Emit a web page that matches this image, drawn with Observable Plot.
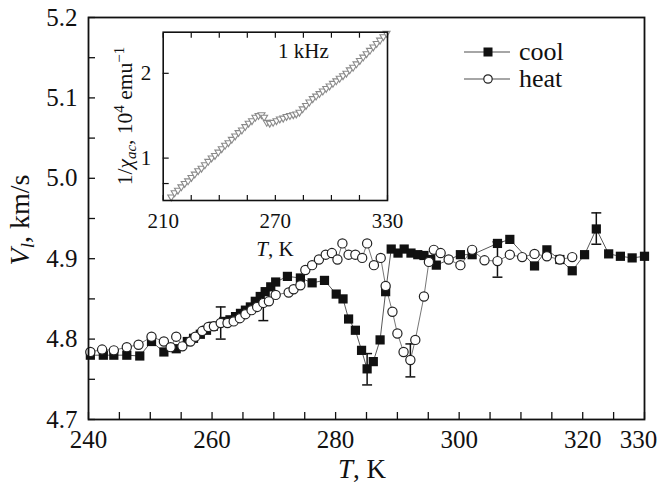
<!DOCTYPE html>
<html><head><meta charset="utf-8">
<script src="https://cdn.jsdelivr.net/npm/d3@7"></script>
<script src="https://cdn.jsdelivr.net/npm/@observablehq/plot@0.6"></script>
<style>
body{margin:0;background:#fff;}
#wrap{position:relative;width:660px;height:486px;}
#wrap svg{position:absolute;left:0;top:0;overflow:visible;}
#wrap svg, #wrap svg text{font-family:"Liberation Serif","DejaVu Serif",serif !important;}
</style></head><body><div id="wrap"></div>
<script>
// ---- data ----
const coolT = [240.3,242.4,244.1,246.2,248.3,250.2,252.2,254.2,256.0,257.0,258.1,259.1,260.2,261.9,262.9,263.8,264.6,265.4,266.2,267.0,267.8,268.6,269.5,270.3,272.2,274.3,276.2,278.2,280.1,281.2,282.1,283.2,284.2,285.1,286.1,287.2,288.1,289.0,290.1,291.1,292.2,293.3,294.3,295.4,296.3,300.2,302.1,306.2,308.2,312.2,314.2,316.3,318.3,320.3,322.2,324.2,326.1,328.0,330.0];
const coolV = [4.780,4.780,4.780,4.780,4.779,4.797,4.784,4.788,4.797,4.801,4.806,4.811,4.816,4.822,4.824,4.828,4.832,4.836,4.840,4.847,4.853,4.859,4.865,4.871,4.878,4.876,4.870,4.873,4.856,4.850,4.825,4.811,4.786,4.763,4.772,4.799,4.859,4.912,4.907,4.912,4.907,4.905,4.904,4.899,4.892,4.905,4.905,4.919,4.924,4.891,4.911,4.899,4.885,4.905,4.937,4.906,4.903,4.901,4.903];
const heatT = [240.3,242.2,244.1,246.2,248.1,250.2,252.2,253.3,254.2,255.2,256.5,257.3,258.4,259.4,260.3,261.4,262.5,263.5,264.5,265.4,266.4,267.3,268.3,269.2,270.3,272.4,273.2,274.3,275.1,276.2,277.3,278.4,279.4,280.3,281.1,282.1,283.2,284.3,285.1,286.2,287.3,288.1,289.2,290.0,291.0,292.1,292.9,294.3,295.1,295.9,297.0,298.3,300.2,302.1,304.1,306.2,308.2,310.2,312.2,314.2,316.3,318.3];
const heatV = [4.784,4.787,4.786,4.790,4.793,4.803,4.797,4.790,4.803,4.791,4.797,4.803,4.810,4.815,4.816,4.820,4.820,4.822,4.826,4.831,4.836,4.840,4.845,4.847,4.855,4.858,4.862,4.867,4.886,4.892,4.899,4.905,4.907,4.899,4.919,4.905,4.905,4.901,4.919,4.892,4.901,4.866,4.834,4.807,4.784,4.774,4.799,4.853,4.896,4.911,4.907,4.899,4.892,4.911,4.898,4.897,4.905,4.902,4.906,4.903,4.899,4.902];
const errT  = [261.4,268.3,285.1,292.1,306.2,322.2];
const errLo = [4.800,4.823,4.743,4.753,4.877,4.918];
const errHi = [4.840,4.849,4.782,4.794,4.921,4.957];
const insetT = [214.3,216.1,217.9,219.7,221.5,223.3,225.1,226.9,228.7,230.5,232.3,234.1,235.9,237.7,239.5,241.3,243.1,244.9,246.7,248.5,250.3,252.1,253.9,255.7,257.5,259.3,261.0,262.6,264.0,265.4,267.0,268.8,270.6,272.4,274.2,276.0,277.8,279.6,281.2,282.9,284.6,286.4,288.2,290.0,291.8,293.6,295.4,297.2,299.0,300.8,302.6,304.4,306.2,308.0,309.8,311.6,313.4,315.2,317.0,318.8,320.6,322.4,324.2,326.0,327.8,329.5];
const insetV = [0.53,0.58,0.61,0.65,0.69,0.72,0.76,0.80,0.84,0.87,0.91,0.95,0.99,1.02,1.06,1.10,1.14,1.17,1.21,1.25,1.29,1.32,1.36,1.40,1.43,1.47,1.49,1.50,1.47,1.41,1.40,1.41,1.43,1.45,1.46,1.48,1.49,1.50,1.51,1.53,1.57,1.61,1.65,1.69,1.72,1.75,1.78,1.81,1.84,1.87,1.90,1.93,1.96,1.99,2.03,2.06,2.10,2.14,2.18,2.22,2.26,2.30,2.34,2.38,2.42,2.46];
const xTickLabels = [240,260,280,300,320,330];
const yTickLabels = [4.7,4.8,4.9,5.0,5.1,5.2];
const insetXTickLabels = [210,270,330];
const insetYTickLabels = [1,2];
const insetYTicks = [0.7,1,2];
const legendLabels = ["cool","heat"];

// ---- build ----
const serif = '"Liberation Serif","DejaVu Serif",serif';
const cool = coolT.map((T,i)=>({T, V:coolV[i]}));
const heat = heatT.map((T,i)=>({T, V:heatV[i]}));
const errs = errT.map((T,i)=>({T, lo:errLo[i], hi:errHi[i]}));
const inset = insetT.map((T,i)=>({T, V:insetV[i]}));

const capSymbol = {draw(ctx,size){const w=Math.sqrt(size)/2;ctx.moveTo(-w,0);ctx.lineTo(w,0);}};
const downTri = {draw(ctx,size){const s=Math.sqrt(size);const h=s*0.85;ctx.moveTo(-s/2,-h/2);ctx.lineTo(s/2,-h/2);ctx.lineTo(0,h/2);ctx.closePath();}};

const main = Plot.plot({
  width:660, height:486, marginLeft:88, marginRight:16, marginTop:17, marginBottom:67,
  style:{background:"transparent", fontFamily:serif, fontSize:"25px", color:"#111", overflow:"visible"},
  x:{domain:[240,330]}, y:{domain:[4.7,5.2]},
  marks:[
    Plot.axisX({ticks:d3.range(240,331,5), tickSize:-7, tickFormat:()=>"", label:null, strokeWidth:1.3}),
    Plot.axisY({ticks:d3.range(4.7,5.201,0.05), tickSize:-7, tickFormat:()=>"", label:null, strokeWidth:1.3}),
    Plot.text(xTickLabels.filter(d=>d<330), {x:d=>d, text:d=>String(d), frameAnchor:"bottom", dy:20, lineAnchor:"middle", fill:"#111"}),
    Plot.text(xTickLabels.filter(d=>d>=330), {x:d=>d, text:d=>String(d), frameAnchor:"bottom", dy:20, dx:-6, lineAnchor:"middle", fill:"#111"}),
    Plot.text(yTickLabels, {y:d=>d, text:d=>d.toFixed(1), frameAnchor:"left", textAnchor:"end", dx:-11, lineAnchor:"middle", fill:"#111"}),
    Plot.line(cool, {x:"T", y:"V", stroke:"#444", strokeWidth:0.9}),
    Plot.line(heat, {x:"T", y:"V", stroke:"#666", strokeWidth:0.9}),
    Plot.ruleX(errs, {x:"T", y1:"lo", y2:"hi", stroke:"#111", strokeWidth:1.5}),
    Plot.dot(errs, {x:"T", y:"lo", symbol:capSymbol, r:5.6, stroke:"#111", strokeWidth:1.5}),
    Plot.dot(errs, {x:"T", y:"hi", symbol:capSymbol, r:5.6, stroke:"#111", strokeWidth:1.5}),
    Plot.dot(cool, {x:"T", y:"V", symbol:"square", r:5.2, fill:"#111", stroke:"none"}),
    Plot.dot(heat, {x:"T", y:"V", symbol:"circle", r:4.6, fill:"white", stroke:"#222", strokeWidth:1.2}),
    Plot.frame({stroke:"#111", strokeWidth:1.8})
  ]
});

const ins = Plot.plot({
  width:660, height:486, marginLeft:162.7, marginRight:273, marginTop:31.7, marginBottom:286,
  style:{background:"transparent", fontFamily:serif, fontSize:"21px", color:"#111", overflow:"visible"},
  x:{domain:[210,330]}, y:{domain:[0.5,2.485]},
  marks:[
    Plot.frame({fill:"white", stroke:"none"}),
    Plot.axisX({anchor:"bottom", ticks:d3.range(210,331,15), tickSize:-5, tickFormat:()=>"", label:null, strokeWidth:1.2}),
    Plot.axisX({anchor:"top", ticks:d3.range(210,331,15), tickSize:-5, tickFormat:()=>"", label:null, strokeWidth:1.2}),
    Plot.axisY({anchor:"left", ticks:insetYTicks, tickSize:-6, tickFormat:()=>"", label:null, strokeWidth:1.2}),
    Plot.text(insetXTickLabels, {x:d=>d, text:d=>String(d), frameAnchor:"bottom", dy:21, lineAnchor:"middle", fill:"#111"}),
    Plot.text(insetYTickLabels, {y:d=>d, text:d=>String(d), frameAnchor:"left", textAnchor:"end", dx:-12, lineAnchor:"middle", fill:"#111"}),
    Plot.dot(inset, {x:"T", y:"V", symbol:downTri, r:3.9, fill:"white", stroke:"#8a8a8a", strokeWidth:1.1}),
    Plot.frame({stroke:"#111", strokeWidth:1.6})
  ]
});

const wrap = document.getElementById("wrap");
wrap.appendChild(main);
wrap.appendChild(ins);

// titles and legend
const s = d3.select(main);
function txt(sel, x, y, size, anchor){
  return sel.append("text").attr("x",x).attr("y",y).attr("text-anchor",anchor||"start")
    .attr("font-family",serif).attr("font-size",size).attr("fill","#111");
}
const xt = txt(s, 362, 478, 27, "middle");
xt.append("tspan").attr("font-style","italic").text("T");
xt.append("tspan").text(", K");

const yt = s.append("text").attr("transform","translate(29,220) rotate(-90)").attr("text-anchor","middle")
  .attr("font-family",serif).attr("font-size",28).attr("fill","#111");
yt.append("tspan").attr("font-style","italic").text("V");
yt.append("tspan").attr("font-style","italic").attr("font-size",19).attr("dy",5).text("l");
yt.append("tspan").attr("dy",-5).text(", km/s");

// legend
const lg = s.append("g");
const ly = [52, 79];
legendLabels.forEach((lab,i)=>{
  lg.append("line").attr("x1",464).attr("x2",510).attr("y1",ly[i]).attr("y2",ly[i]).attr("stroke","#888").attr("stroke-width",1.3);
  if(i===0) lg.append("rect").attr("x",483.5).attr("y",ly[i]-4.5).attr("width",9).attr("height",9).attr("fill","#111");
  else lg.append("circle").attr("cx",488).attr("cy",ly[i]).attr("r",4.2).attr("fill","white").attr("stroke","#222").attr("stroke-width",1.2);
  txt(lg, 519, ly[i]+8, 26).text(lab);
});

// inset texts
const si = d3.select(ins);
txt(si, 278, 58, 21).text("1 kHz");
const it = txt(si, 275, 256, 21, "middle");
it.append("tspan").attr("font-style","italic").text("T");
it.append("tspan").text(", K");
const iy = si.append("text").attr("transform","translate(132,116) rotate(-90)").attr("text-anchor","middle")
  .attr("font-family",serif).attr("font-size",21.5).attr("fill","#111");
iy.append("tspan").text("1/");
iy.append("tspan").attr("font-style","italic").text("χ");
iy.append("tspan").attr("font-style","italic").attr("font-size",15).attr("dy",4).text("ac");
iy.append("tspan").attr("dy",-4).text(", 10");
iy.append("tspan").attr("font-size",15).attr("dy",-8).text("4");
iy.append("tspan").attr("dy",8).text(" emu");
iy.append("tspan").attr("font-size",15).attr("dy",-8).text("−1");
</script></body></html>
